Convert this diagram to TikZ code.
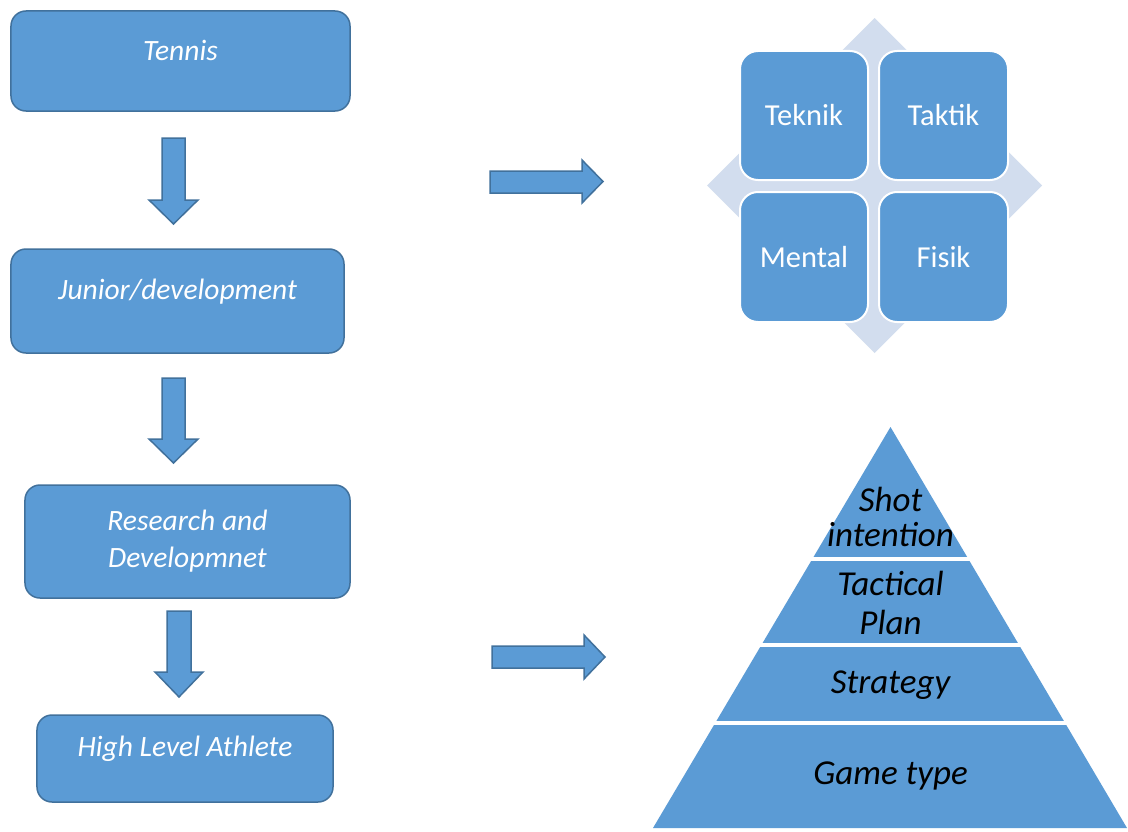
\documentclass[tikz,border=0pt]{standalone}
\usepackage{fontspec}
\setmainfont{Carlito}
\definecolor{mainblue}{HTML}{5B9BD5}
\definecolor{edgeblue}{HTML}{41719C}
\definecolor{paleblue}{HTML}{D2DDEE}
\tikzset{
  flowbox/.style={draw=edgeblue, fill=mainblue, line width=1.5bp, rounded corners=15bp, inner sep=0pt},
  flowtext/.style={text=white, font=\fontsize{29.5bp}{37bp}\selectfont\itshape, align=center, inner sep=0pt},
  blockarrow/.style={draw=edgeblue, fill=mainblue, line width=1.5bp, line join=miter},
  tile/.style={draw=white, fill=mainblue, line width=2bp, rounded corners=18bp, inner sep=0pt, text=white, font=\fontsize{30.5bp}{30.5bp}\selectfont},
  pyrtext/.style={text=black, font=\fontsize{35bp}{35bp}\selectfont\itshape, align=center, inner sep=0pt},
}
\begin{document}
\begin{tikzpicture}[x=1bp, y=-1bp]
\useasboundingbox[fill=white] (0,0) rectangle (1128,832);

% ---- left flow ----
\node[flowbox, minimum width=339bp, minimum height=100bp] (tennis) at (180.5,61) {};
\node[flowtext] (tennisT) at (180.5,50) {Tennis};
\node[flowbox, minimum width=333bp, minimum height=104bp] (junior) at (177.5,301) {};
\node[flowtext] (juniorT) at (177.5,292) {Junior/development};
\node[flowbox, minimum width=325bp, minimum height=113bp] (research) at (187.5,541.5) {};
\node[flowtext] (researchT) at (187.5,541.5) {Research and\\Developmnet};
\node[flowbox, minimum width=296bp, minimum height=87bp] (high) at (185,758.5) {};
\node[flowtext] (highT) at (185,749) {High Level Athlete};

% down block arrows
\draw[blockarrow] (162,138) -- (185,138) -- (185,200) -- (198,200) -- (173.5,224) -- (149,200) -- (162,200) -- cycle;
\draw[blockarrow] (162,378) -- (185,378) -- (185,439) -- (198,439) -- (173.5,463) -- (149,439) -- (162,439) -- cycle;
\draw[blockarrow] (167,611) -- (191,611) -- (191,672) -- (203,672) -- (179,697) -- (155,672) -- (167,672) -- cycle;

% right block arrows
\draw[blockarrow] (490,171) -- (582,171) -- (582,160) -- (603,181.5) -- (582,203) -- (582,193) -- (490,193) -- cycle;
\draw[blockarrow] (492,646) -- (584,646) -- (584,635) -- (605,657) -- (584,679) -- (584,668) -- (492,668) -- cycle;

% ---- matrix ----
\fill[paleblue] (874.5,18) -- (1042,185.5) -- (874.5,353) -- (707,185.5) -- cycle;
\node[tile, minimum width=128bp, minimum height=129bp] (teknik) at (804,115.5) {Teknik};
\node[tile, minimum width=129bp, minimum height=129bp] (taktik) at (943.5,115.5) {Taktik};
\node[tile, minimum width=128bp, minimum height=130bp] (mental) at (804,257) {Mental};
\node[tile, minimum width=129bp, minimum height=130bp] (fisik) at (943.5,257) {Fisik};

% ---- pyramid ----
\coordinate (apex) at (890.5,427);
\coordinate (bl) at (653,828);
\coordinate (br) at (1127,828);
\fill[mainblue] (apex) -- (br) -- (bl) -- cycle;
\foreach \yy in {559,645,723} \draw[white, line width=3.5bp] (640,\yy) -- (1128,\yy);
\node[pyrtext] (shot) at (890.5,517) {Shot\\intention};
\node[pyrtext, font=\fontsize{35bp}{39bp}\selectfont\itshape] (tact) at (890.5,603) {Tactical\\Plan};
\node[pyrtext] (strat) at (890.5,685) {Strategy};
\node[pyrtext] (game) at (890.5,776) {Game type};
\end{tikzpicture}
\end{document}
